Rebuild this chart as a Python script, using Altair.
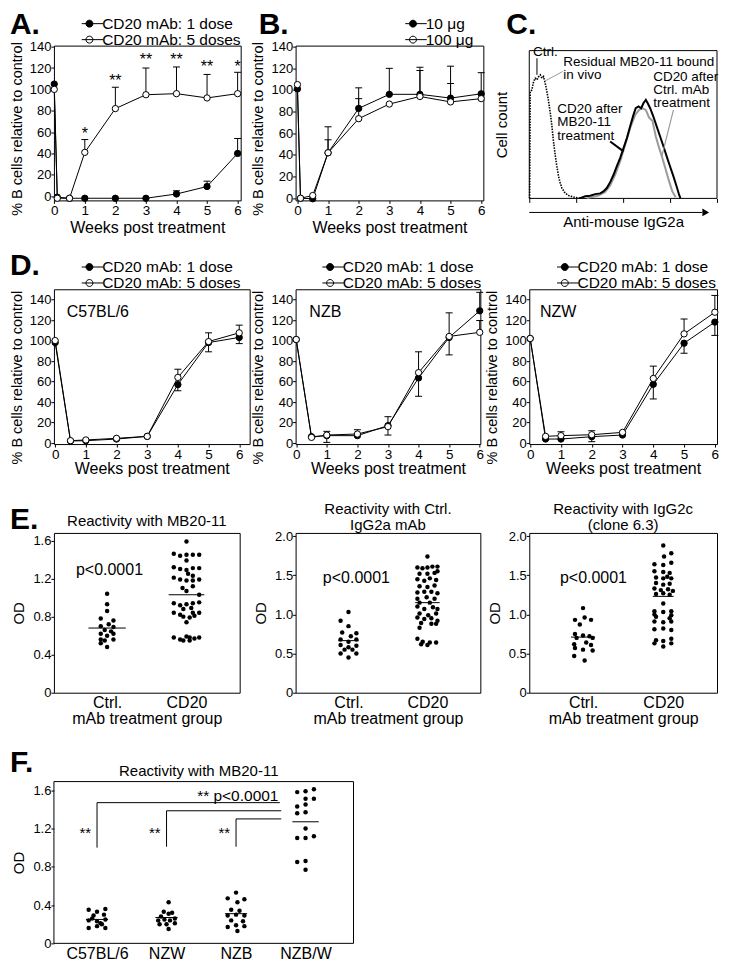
import altair as alt
import pandas as pd

FONT = "Liberation Sans"

# ===== Panel A =====
a_weeks = [0, 0.1, 0.5, 1, 2, 3, 4, 5, 6]
a_names = ["CD20 mAb: 1 dose", "CD20 mAb: 5 doses"]
a_one = [105, -1, -2, -2, -2, -2, 2, 9, 40]
a_five = [100, -2, -2, 41, 82, 95, 96, 92, 96]
a_one_cap = [None, None, None, None, None, None, 5, 14, 54]
a_five_cap = [None, None, None, 53, 102, 120, 121, 114, 116]
a_star_weeks = [1, 2, 3, 4, 5, 6]
a_star_text = ["*", "**", "**", "**", "**", "*"]
a_star_y = [62, 112, 131, 131, 125, 125]

# ===== Panel B =====
b_weeks = [0, 0.1, 0.5, 1, 2, 3, 4, 5, 6]
b_names = ["10 μg", "100 μg"]
b_ten = [101, 0, -0.5, 42, 83, 96, 96, 92.5, 96.5]
b_hundred = [105, 0, 2.5, 42, 73.5, 87, 94, 89, 92]
b_ten_cap = [None, None, None, 66, 102, 120, 121, 122, 116]
b_hundred_cap = [None, None, None, 54, 92, None, 118, 106, None]

# ===== Panel C (histograms) =====
c_ctrl_x = [0.2, 0.5, 1.4, 2.3, 3.2, 4.1, 5.0, 5.9, 6.7, 7.6, 8.5, 9.4, 10.3, 11.2, 12.1, 12.9, 13.8, 14.7, 15.6, 16.5, 17.4, 19.1, 20.9, 23.6, 27.1]
c_ctrl_y = [0, 72.3, 73.4, 79, 81.3, 80.2, 82.4, 83.6, 81.3, 82.4, 77.9, 72.3, 65.5, 57.7, 48.6, 38.5, 29.5, 21.6, 14.9, 10.4, 7.0, 3.6, 2.0, 0.9, 0.2]
c_mb_x = [27.1, 29.8, 32.4, 35.1, 37.8, 39.5, 41.3, 43.1, 44.9, 46.6, 48.4, 50.2, 52.0, 53.7, 55.5, 56.7, 58.2, 59.6, 60.8, 62.1, 63.1, 64.4, 66.1, 67.9, 69.7, 71.5, 73.2, 75.0, 76.8, 78.5, 79.8, 80.5]
c_mb_y = [0.2, 1.4, 1.8, 2.9, 3.4, 4.7, 7.0, 11.0, 16.0, 21.6, 27.3, 34.0, 40.8, 48.6, 56.5, 61.0, 62.2, 61.0, 64.4, 66.7, 64.4, 61.0, 55.4, 48.6, 41.9, 35.1, 28.4, 21.6, 14.9, 8.1, 2.5, 0.2]
c_ctl_x = [30.7, 33.3, 36.9, 40.4, 43.1, 45.7, 48.4, 51.1, 53.7, 56.4, 58.5, 60.3, 62.1, 63.8, 65.6, 67.4, 69.1, 70.9, 72.7, 74.5, 76.2, 78.0]
c_ctl_y = [0.2, 0.9, 2.0, 4.3, 8.8, 16.0, 25.0, 36.3, 47.5, 56.5, 59.9, 61.0, 59.9, 54.7, 52.5, 41.9, 34.5, 27.3, 19.4, 11.5, 4.7, 0.7]
c_notes = ["Ctrl.", "Residual MB20-11 bound\nin vivo", "CD20 after\nMB20-11\ntreatment", "CD20 after\nCtrl. mAb\ntreatment"]
c_note_x = [2.0, 18.1, 14.9, 66.0]
c_note_y = [104, 97.3, 65.5, 87.2]
c_lead_x = [4.1, 17.7, 43.1, 76.8]
c_lead_y = [94.8, 85.8, 38.5, 59.9]
c_lead_x2 = [4.1, 8.5, 50.2, 70.6]
c_lead_y2 = [83.6, 79.5, 31.8, 28.4]
c_lead_color = ["black", "#999999", "black", "#999999"]
c_lead_width = [1, 1, 2, 1.2]
c_dom = [0, 100]

# ===== Panel D =====
d_weeks = [0, 0.5, 1, 2, 3, 4, 5, 6]
d_names = ["CD20 mAb: 1 dose", "CD20 mAb: 5 doses"]
d_strains = ["C57BL/6", "NZB", "NZW"]
d_strain_x = [0.38, 0.43, 0.32]
d1_one = [98, 2, 2.3, 3.9, 6.5, 57, 98, 103]
d1_five = [100, 2.3, 3, 4.6, 6.5, 64, 99, 107.5]
d1_one_cap = [None, None, None, None, None, 51, 89, 97]
d1_five_cap = [None, None, None, None, None, 72, 107.5, 115]
d2_one = [101, 6.2, 7.2, 7.2, 17, 63.5, 103, 129]
d2_five = [101, 5.5, 7.8, 8.8, 16, 68.7, 104, 108]
d2_one_cap = [None, None, 0.6, None, 25.7, 45.6, 86, 147]
d2_five_cap = [None, None, 11.4, 13, 7.8, 89, 127, 119.5]
d3_one = [102, 3.9, 3.9, 6.2, 7.8, 57.3, 97.4, 118]
d3_five = [102, 6.5, 7.2, 8.1, 10.4, 63, 106.5, 127.6]
d3_one_cap = [None, None, None, 1.3, None, 43, 87.6, 105]
d3_five_cap = [None, None, 11, 12, None, 75, 121, 144]

# ===== Panel E =====
e_groups = ["Ctrl.", "CD20"]
e1_ctrl_dx = [0, 0, 0, -0.08, 0.08, 0.02, -0.08, 0.08, -0.03, 0.05, -0.08, 0.08, 0, -0.08, 0.08, -0.03, -0.08, 0]
e1_ctrl_v = [1.04, 0.93, 0.86, 0.78, 0.76, 0.72, 0.70, 0.69, 0.66, 0.645, 0.62, 0.62, 0.60, 0.56, 0.56, 0.55, 0.52, 0.48]
e1_cd_dx = [0, -0.16, -0.08, 0, 0.08, 0.16, 0, -0.16, -0.08, 0, 0.08, 0.16, 0.02, 0.08, -0.16, -0.08, 0, 0.08, 0.16,
            -0.05, 0.08, 0, 0.16, -0.16, -0.08, 0, 0.08, 0.16, -0.04, 0.06, -0.16, -0.08, 0.08, 0.16, -0.04, 0.04, 0.1, 0,
            -0.16, -0.08, 0, 0.04, 0.1, 0.16, -0.04, 0.04]
e1_cd_v = [1.59, 1.46, 1.44, 1.45, 1.45, 1.45, 1.39, 1.32, 1.30, 1.29, 1.31, 1.31, 1.25, 1.23, 1.21, 1.19, 1.18, 1.18, 1.19,
           1.10, 1.12, 1.07, 1.03, 0.94, 0.92, 0.93, 0.94, 0.95, 0.88, 0.89, 0.84, 0.82, 0.84, 0.84, 0.80, 0.79, 0.81, 0.74,
           0.58, 0.56, 0.59, 0.58, 0.57, 0.58, 0.55, 0.55]
e1_means = [0.68, 1.03]
e1_half = [0.235, 0.225]
e2_ctrl_dx = [0, -0.1, 0, -0.08, 0.1, 0.03, -0.1, 0.1, 0, -0.1, 0.1, 0.0, -0.05, 0.05, -0.1, 0.1, 0]
e2_ctrl_v = [1.03, 0.92, 0.85, 0.77, 0.76, 0.72, 0.68, 0.68, 0.65, 0.61, 0.60, 0.58, 0.55, 0.55, 0.50, 0.50, 0.45]
e2_cd_dx = [0, -0.127, -0.063, 0, 0.063, 0.127, -0.1, 0, 0.09, 0.127, -0.127, -0.04, 0.03, 0.11, -0.1, 0, 0.09,
            -0.127, -0.04, 0.05, 0.127, -0.01, 0.09, -0.127, -0.1, 0.03, -0.127, -0.04, 0.07, 0.127, -0.1, 0.01, 0.11,
            -0.127, -0.04, 0.05, 0.127, -0.08, 0.11, 0.05, -0.1, -0.127, -0.06, 0.03, 0.11, -0.08, 0]
e2_cd_v = [1.74, 1.60, 1.59, 1.60, 1.61, 1.61, 1.52, 1.52, 1.53, 1.55, 1.45, 1.43, 1.46, 1.44, 1.36, 1.35, 1.37,
           1.28, 1.29, 1.29, 1.27, 1.22, 1.20, 1.20, 1.15, 1.15, 1.10, 1.07, 1.09, 1.07, 1.01, 0.99, 1.01,
           0.96, 0.94, 0.95, 0.92, 0.89, 0.88, 0.88, 0.83, 0.69, 0.65, 0.64, 0.64, 0.62, 0.61]
e2_means = [0.665, 1.15]
e2_half = [0.13, 0.155]
e3_ctrl_dx = [0.0, -0.1, 0.02, 0.1, -0.04, -0.1, 0.0, 0.08, 0.12, -0.08, -0.11, 0.1, -0.1, 0.0, 0.12, -0.11, 0.02, 0.04]
e3_ctrl_v = [1.08, 0.93, 0.96, 0.93, 0.87, 0.75, 0.73, 0.72, 0.70, 0.70, 0.62, 0.61, 0.57, 0.55, 0.54, 0.47, 0.41, 0.64]
e3_cd_dx = [0, 0.01, 0.1, -0.11, 0, 0.1, -0.11, 0, 0.08, -0.09, 0, 0.05, 0.1, -0.09, 0, 0.08, -0.11, -0.03, 0.06, 0.12,
            -0.09, 0, 0.08, 0, -0.11, 0, 0.1, -0.09, 0.08, -0.11, 0, 0.1, -0.11, 0, 0.1, -0.09, 0, 0.1, -0.11, 0, 0.1,
            -0.11, 0.1]
e3_cd_v = [1.88, 1.74, 1.78, 1.64, 1.63, 1.66, 1.55, 1.54, 1.53, 1.47, 1.46, 1.48, 1.46, 1.40, 1.38, 1.39, 1.33, 1.31, 1.32, 1.30,
           1.26, 1.27, 1.25, 1.14, 1.04, 1.03, 1.04, 0.97, 0.95, 0.91, 0.90, 0.91, 0.81, 0.82, 0.80, 0.67, 0.66, 0.69, 0.63, 0.59, 0.63,
           1.00, 0.99]
e3_means = [0.71, 1.23]
e3_half = [0.15, 0.13]
e_ptext = "p<0.0001"

# ===== Panel F =====
f_groups = ["C57BL/6", "NZW", "NZB", "NZB/W"]
f_c57_dx = [-0.12, 0, 0.12, -0.05, 0.1, -0.12, 0, 0.12, -0.07, 0.05, -0.12, 0, 0.12, 0.07]
f_c57_v = [0.35, 0.33, 0.36, 0.29, 0.30, 0.24, 0.23, 0.25, 0.26, 0.21, 0.16, 0.18, 0.16, 0.20]
f_nzw_dx = [0.03, -0.04, 0.03, 0.08, -0.08, 0.12, -0.12, 0.05, -0.03, -0.1, 0.0, 0.12, 0.03]
f_nzw_v = [0.43, 0.33, 0.31, 0.32, 0.28, 0.26, 0.24, 0.24, 0.25, 0.20, 0.20, 0.21, 0.15]
f_nzb_dx = [0, -0.12, 0.12, 0.02, -0.07, 0.05, -0.12, 0.0, 0.12, -0.07, 0.1, -0.12, 0.0, 0.12, 0.02]
f_nzb_v = [0.53, 0.47, 0.46, 0.43, 0.35, 0.34, 0.29, 0.30, 0.29, 0.24, 0.23, 0.17, 0.19, 0.18, 0.13]
f_nzbw_dx = [-0.12, 0, 0.12, 0, 0.12, -0.12, 0, -0.12, 0, 0, -0.12, 0, 0.12, -0.12, 0, 0]
f_nzbw_v = [1.58, 1.59, 1.61, 1.51, 1.51, 1.43, 1.45, 1.36, 1.37, 1.20, 1.10, 1.10, 1.12, 0.85, 0.86, 0.77]
f_means = [0.25, 0.27, 0.31, 1.27]
f_half = [0.16, 0.16, 0.16, 0.19]
f_bracket_group = [1, 2, 3]
f_bracket_bottom = [1.0, 1.01, 1.01]
f_bracket_top = [1.47, 1.385, 1.30]
f_bracket_end = [3.63, 3.65, 3.65]
f_ptext = "** p<0.0001"
f_xdom = [0.38, 4.69]
f_ydom = [0, 1.69]

SYM = "M-2.3,0L2.3,0M0.58,0A0.58,0.58,0,1,1,-0.58,0A0.58,0.58,0,1,1,0.58,0Z"
TICK_FS = 13


def letter_layer(letter, dx, dy):
    return alt.Chart(pd.DataFrame({"t": [letter]})).mark_text(
        align="left", baseline="top", fontSize=30, fontWeight="bold", font=FONT, color="black"
    ).encode(text="t:N", x=alt.value(dx), y=alt.value(dy))


def line_panel(weeks, names, v1, v2, c1, c2, width, height, xdom, ydom, lx, ly, letter, letter_xy,
               extra=(), ytitle_y=None, xtitle_pad=0):
    rows = []
    for name, vals, caps in ((names[0], v1, c1), (names[1], v2, c2)):
        for w, v, c in zip(weeks, vals, caps):
            rows.append({"week": w, "value": v, "cap": c, "series": name})
    df = pd.DataFrame(rows)
    xs = alt.Scale(domain=xdom, nice=False, zero=False)
    ys = alt.Scale(domain=ydom, nice=False, zero=False)
    yvals = list(range(0, 141, 20))
    xvals = [0, 1, 2, 3, 4, 5, 6]
    yaxis_kw = dict(values=yvals, tickCount=len(yvals), title="% B cells relative to control",
                    titleFontSize=14.5, titlePadding=5, labelOverlap=False, labelFontSize=TICK_FS)
    if ytitle_y is not None:
        yaxis_kw["titleY"] = ytitle_y
    x = alt.X("week:Q", scale=xs, axis=alt.Axis(values=xvals, tickCount=len(xvals), format="d", labelOverlap=False,
                                                 labelFontSize=TICK_FS + 0.5,
                                                 title="Weeks post treatment", titlePadding=xtitle_pad))
    y = alt.Y("value:Q", scale=ys, axis=alt.Axis(**yaxis_kw))
    base = alt.Chart(df)
    err = base.transform_filter("isValid(datum.cap)").mark_rule(color="black", strokeWidth=1).encode(
        x=x, y=y, y2="cap:Q")
    caps = base.transform_filter("isValid(datum.cap)").transform_calculate(value="datum.cap").mark_point(
        shape="stroke", size=49, stroke="black", strokeWidth=1, opacity=1).encode(x=x, y=y)
    line = base.mark_line(color="black", strokeWidth=1).encode(x=x, y=y, detail="series:N")
    pts = base.mark_point(filled=True, shape="circle", size=40, stroke="black", strokeWidth=1, opacity=1).encode(
        x=x, y=y,
        fill=alt.Fill("series:N", scale=alt.Scale(domain=names, range=["black", "white"]),
                      legend=alt.Legend(orient="none", legendX=lx, legendY=ly, title=None, symbolType=SYM,
                                        symbolSize=144, symbolStrokeColor="black", symbolStrokeWidth=1,
                                        labelFontSize=15.5, labelOffset=5, rowPadding=0, clipHeight=14,
                                        padding=0, labelFont=FONT, labelColor="black")))
    layers = [err, caps, line, pts] + list(extra)
    if letter:
        layers.append(letter_layer(letter, *letter_xy))
    return alt.layer(*layers).properties(width=width, height=height)


# ---- A / B ----
a_star_df = pd.DataFrame({"week": a_star_weeks, "value": a_star_y, "label": a_star_text})
a_stars = alt.Chart(a_star_df).mark_text(fontSize=16, baseline="alphabetic", dy=9, font=FONT, color="black").encode(
    x="week:Q", y="value:Q", text="label:N")
chart_a = line_panel(a_weeks, a_names, a_one, a_five, a_one_cap, a_five_cap, 187, 155, [-0.01, 6.1], [-4, 141],
                     27.8, -29, "A.", (-44, -36), extra=[a_stars], ytitle_y=83, xtitle_pad=3)
chart_b = line_panel(b_weeks, b_names, b_ten, b_hundred, b_ten_cap, b_hundred_cap, 188, 155, [-0.06, 6.07],
                     [-2, 141], 109.8, -29, "B.", (-37, -36), ytitle_y=83, xtitle_pad=3)

# ---- C ----
c_rows = []
for cname, xs_, ys_ in (("grey", c_ctl_x, c_ctl_y), ("black", c_mb_x, c_mb_y), ("ctrl", c_ctrl_x, c_ctrl_y)):
    for a, b in zip(xs_, ys_):
        c_rows.append({"fl": a, "count": b, "curve": cname})
c_df = pd.DataFrame(c_rows)
c_ticks = [0, 25, 50, 75, 100]
cx = alt.X("fl:Q", scale=alt.Scale(domain=c_dom, nice=False, zero=False),
           axis=alt.Axis(values=c_ticks, tickCount=len(c_ticks), labels=False, tickSize=4, title="Anti-mouse IgG2a",
                         titlePadding=12, titleFontSize=15, offset=-2))
cy = alt.Y("count:Q", scale=alt.Scale(domain=c_dom, nice=False, zero=False, range=[153, 5]),
           axis=alt.Axis(labels=False, ticks=False, title="Cell count", titlePadding=20, titleFontSize=15))
c_base = alt.Chart(c_df)
c_frame_df = pd.DataFrame({"fl": [c_dom[0]], "fl2": [c_dom[1]], "count": [c_dom[0]], "count2": [c_dom[1]]})
c_frame = alt.Chart(c_frame_df).mark_rect(fill="transparent", stroke="black", strokeWidth=1).encode(
    x=cx, x2="fl2:Q", y=cy, y2="count2:Q")
c_grey = c_base.transform_filter("datum.curve == 'grey'").mark_line(color="#9a9a9a", strokeWidth=2).encode(x=cx, y=cy)
c_black = c_base.transform_filter("datum.curve == 'black'").mark_line(color="black", strokeWidth=2).encode(x=cx, y=cy)
c_dot = c_base.transform_filter("datum.curve == 'ctrl'").mark_line(color="black", strokeWidth=1.6,
                                                                  strokeDash=[1.5, 1.2]).encode(x=cx, y=cy)
c_note_df = pd.DataFrame({"fl": c_note_x, "count": c_note_y, "label": c_notes})
c_text = alt.Chart(c_note_df).mark_text(align="left", baseline="top", lineBreak="\n", fontSize=13.5,
                                        lineHeight=13.5, font=FONT, color="black").encode(
    x="fl:Q", y="count:Q", text="label:N")
c_lead_df = pd.DataFrame({"fl": c_lead_x, "count": c_lead_y, "fl2": c_lead_x2, "count2": c_lead_y2,
                          "col": c_lead_color, "w": c_lead_width})
c_leads = alt.Chart(c_lead_df).mark_rule().encode(
    x="fl:Q", y="count:Q", x2="fl2:Q", y2="count2:Q",
    color=alt.Color("col:N", scale=None), strokeWidth=alt.StrokeWidth("w:Q", scale=None))
c_arrow_df = pd.DataFrame({"fl": [0], "fl2": [92], "count": [-9.5]})
c_arrow = alt.Chart(c_arrow_df).mark_rule(color="black", strokeWidth=1).encode(x="fl:Q", x2="fl2:Q", y="count:Q")
c_head_df = pd.DataFrame({"fl": [94], "count": [-9.5]})
c_head = alt.Chart(c_head_df).mark_point(shape="triangle-right", filled=True, size=60, color="black",
                                         opacity=1).encode(x="fl:Q", y="count:Q")
chart_c = alt.layer(c_frame, c_grey, c_black, c_dot, c_leads, c_text, c_arrow, c_head,
                    letter_layer("C.", -23, -36)).properties(
    width=188, height=155, view=alt.ViewBackground(stroke="transparent"))


# ---- D ----
def strain_layer(label, xpos):
    df = pd.DataFrame({"week": [xpos], "value": [127.6], "label": [label]})
    return alt.Chart(df).mark_text(align="left", baseline="middle", fontSize=16, font=FONT, color="black").encode(
        x="week:Q", y="value:Q", text="label:N")


chart_d1 = line_panel(d_weeks, d_names, d1_one, d1_five, d1_one_cap, d1_five_cap, 196, 155, [-0.04, 6.34],
                      [-1, 150], 27.8, -29.3, "D.", (-44, -38), extra=[strain_layer(d_strains[0], d_strain_x[0])],
                      ytitle_y=88, xtitle_pad=0)
chart_d2 = line_panel(d_weeks, d_names, d2_one, d2_five, d2_one_cap, d2_five_cap, 185, 155, [-0.02, 6.02],
                      [-1, 150], 26.8, -29.3, None, None, extra=[strain_layer(d_strains[1], d_strain_x[1])],
                      ytitle_y=88, xtitle_pad=0)
chart_d3 = line_panel(d_weeks, d_names, d3_one, d3_five, d3_one_cap, d3_five_cap, 188, 155, [-0.03, 6.07],
                      [-1, 150], 27.8, -29.3, None, None, extra=[strain_layer(d_strains[2], d_strain_x[2])],
                      ytitle_y=88, xtitle_pad=0)


# ---- dot panels ----
def dot_panel(groups, dxs, vs, means, halfs, title, ydom, yvals, xdom, width, height, xtitle, extra, letter,
              letter_xy, xrange=None, title_dx=0, frame=False, title_offset=2):
    rows = []
    for gi, (dx, v) in enumerate(zip(dxs, vs)):
        for a, b in zip(dx, v):
            rows.append({"grp": gi + 1 + a, "od": b})
    df = pd.DataFrame(rows)
    label_expr = " : ".join(f"datum.value == {i + 1} ? '{g}'" for i, g in enumerate(groups)) + " : ''"
    xvals = list(range(1, len(groups) + 1))
    xaxis_kw = dict(values=xvals, tickCount=len(xvals), labelExpr=label_expr, ticks=False, labelFontSize=16,
                    labelPadding=2, titlePadding=0, title=xtitle if xtitle else None, labelOverlap=False)
    xscale_kw = dict(domain=xdom, nice=False, zero=False)
    if xrange is not None:
        xscale_kw["range"] = xrange
    x = alt.X("grp:Q", scale=alt.Scale(**xscale_kw), axis=alt.Axis(**xaxis_kw))
    y = alt.Y("od:Q", scale=alt.Scale(domain=ydom, nice=False, zero=False),
              axis=alt.Axis(values=yvals, tickCount=len(yvals),
                            labelExpr="datum.value == 0 ? '0' : format(datum.value, '.1f')",
                            title="OD", titlePadding=6, titleFontSize=15, labelOverlap=False,
                            labelFontSize=TICK_FS))
    pts = alt.Chart(df).mark_circle(size=20, color="black", opacity=1).encode(x=x, y=y)
    mdf = pd.DataFrame({"grp": [i + 1 - h for i, h in enumerate(halfs)],
                        "grp2": [i + 1 + h for i, h in enumerate(halfs)], "od": means})
    mean_rules = alt.Chart(mdf).mark_rule(color="black", strokeWidth=1).encode(x="grp:Q", x2="grp2:Q", y="od:Q")
    layers = [pts, mean_rules] + list(extra)
    if frame:
        fdf = pd.DataFrame({"grp": [xdom[0]], "grp2": [xdom[1]], "od": [ydom[0]], "od2": [ydom[1]]})
        layers.append(alt.Chart(fdf).mark_rect(fill="transparent", stroke="black", strokeWidth=1).encode(
            x="grp:Q", x2="grp2:Q", y="od:Q", y2="od2:Q"))
    if letter:
        layers.append(letter_layer(letter, *letter_xy))
    props = dict(width=width, height=height,
                 title=alt.TitleParams(text=title, fontSize=15, fontWeight="normal", font=FONT,
                                       offset=title_offset, lineHeight=16, color="black", frame="group",
                                       dx=title_dx))
    if frame:
        props["view"] = alt.ViewBackground(stroke="transparent")
    return alt.layer(*layers).properties(**props)


def ptext_layer(xpos, ypos, text, size=16, align="center", baseline="middle"):
    df = pd.DataFrame({"grp": [xpos], "od": [ypos], "label": [text]})
    return alt.Chart(df).mark_text(fontSize=size, align=align, baseline=baseline, font=FONT, color="black").encode(
        x="grp:Q", y="od:Q", text="label:N")


E_XDOM = [0.33, 2.67]
chart_e1 = dot_panel(e_groups, [e1_ctrl_dx, e1_cd_dx], [e1_ctrl_v, e1_cd_v], e1_means, e1_half,
                     "Reactivity with MB20-11", [0, 1.68], [0, 0.4, 0.8, 1.2, 1.6], E_XDOM, 186, 160,
                     "mAb treatment group", [ptext_layer(1.03, 1.29, e_ptext)], "E.", (-44, -28),
                     title_offset=-24)
chart_e2 = dot_panel(e_groups, [e2_ctrl_dx, e2_cd_dx], [e2_ctrl_v, e2_cd_v], e2_means, e2_half,
                     ["Reactivity with Ctrl.", "IgG2a mAb"], [0, 2.04], [0, 0.5, 1.0, 1.5, 2.0], E_XDOM, 185, 160,
                     "mAb treatment group", [ptext_layer(1.1, 1.47, e_ptext)], None, None, title_offset=-3)
chart_e3 = dot_panel(e_groups, [e3_ctrl_dx, e3_cd_dx], [e3_ctrl_v, e3_cd_v], e3_means, e3_half,
                     ["Reactivity with IgG2c", "(clone 6.3)"], [0, 2.04], [0, 0.5, 1.0, 1.5, 2.0], E_XDOM, 188, 160,
                     "mAb treatment group", [ptext_layer(1.13, 1.47, e_ptext)], None, None, title_offset=-3)

# ---- F ----
br_v = pd.DataFrame({"grp": f_bracket_group, "od": f_bracket_bottom, "od2": f_bracket_top})
br_h = pd.DataFrame({"grp": f_bracket_group, "grp2": f_bracket_end, "od": f_bracket_top})
f_vrules = alt.Chart(br_v).mark_rule(color="black", strokeWidth=1).encode(x="grp:Q", y="od:Q", y2="od2:Q")
f_hrules = alt.Chart(br_h).mark_rule(color="black", strokeWidth=1).encode(x="grp:Q", x2="grp2:Q", y="od:Q")
star_df = pd.DataFrame({"grp": [g - 0.17 for g in f_bracket_group], "od": [1.18] * 3, "label": ["**"] * 3})
f_stars = alt.Chart(star_df).mark_text(fontSize=15, align="center", baseline="alphabetic", dy=8, font=FONT,
                                       color="black").encode(x="grp:Q", y="od:Q", text="label:N")
chart_f = dot_panel(f_groups, [f_c57_dx, f_nzw_dx, f_nzb_dx, f_nzbw_dx], [f_c57_v, f_nzw_v, f_nzb_v, f_nzbw_v],
                    f_means, f_half, "Reactivity with MB20-11", f_ydom, [0, 0.4, 0.8, 1.2, 1.6], f_xdom,
                    196, 162, None,
                    [f_vrules, f_hrules, f_stars, ptext_layer(3.61, 1.49, f_ptext, size=15.5, align="right",
                                                              baseline="alphabetic")],
                    "F.", (-44, -34), xrange=[0, 300], title_dx=47, frame=True, title_offset=-31)

chart = alt.concat(
    chart_a, chart_b, chart_c, chart_d1, chart_d2, chart_d3, chart_e1, chart_e2, chart_e3, chart_f,
    columns=3, spacing={"row": 89, "column": 46}, bounds="flush", align="each",
).resolve_scale(fill="independent").properties(padding=0).configure(font=FONT).configure_view(
    stroke="black", strokeWidth=1).configure_axis(
    labelFont=FONT, titleFont=FONT, labelColor="black", titleColor="black", tickColor="black", domain=False,
    grid=False, labelFontSize=TICK_FS, titleFontSize=16, titleFontWeight="normal", tickSize=3, labelPadding=0,
    labelOverlap=False, labelFlush=False
).configure_text(font=FONT, color="black")

chart.save("out.html", embed_options={"renderer": "svg", "actions": False})
